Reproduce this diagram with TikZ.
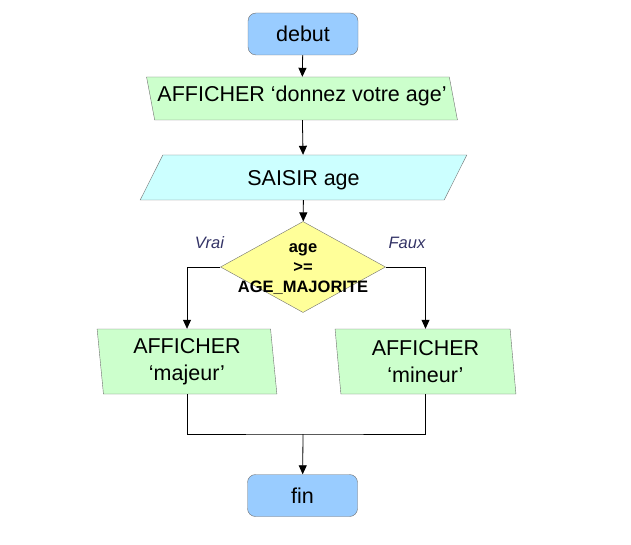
\documentclass[tikz,border=0pt]{standalone}
\usepackage{fontspec}
\setmainfont{Liberation Sans}
\usetikzlibrary{shapes.geometric, arrows.meta, positioning}

\definecolor{termblue}{HTML}{99CCFF}
\definecolor{outgreen}{HTML}{CCFFCC}
\definecolor{incyan}{HTML}{CCFFFF}
\definecolor{testyellow}{HTML}{FFFF99}
\definecolor{edgegray}{HTML}{707070}
\definecolor{labelnavy}{HTML}{333366}

\tikzset{
    terminal/.style={draw=edgegray, fill=termblue, rounded corners=8pt, minimum width=110pt, minimum height=42pt, font=\fontsize{21.5}{24}\selectfont},
    iobox/.style={draw=edgegray, trapezium, trapezium stretches=true, inner sep=0pt, font=\fontsize{21.5}{24}\selectfont},
    testbox/.style={draw=edgegray, fill=testyellow, diamond, aspect=1.8, inner sep=0pt, minimum width=165pt, minimum height=91pt},
    testtext/.style={align=center, inner sep=0pt, font=\fontsize{16.5}{20}\selectfont\bfseries},
    branch/.style={text=labelnavy, font=\fontsize{16.5}{18}\selectfont\itshape},
    flow/.style={-{Triangle[length=9pt, width=8pt]}, line width=0.8pt},
    mergeline/.style={line width=0.8pt}
}

\begin{document}
\begin{tikzpicture}[x=1pt, y=-1pt]
            \useasboundingbox (0, 0) rectangle (631, 545);
            \node[terminal] (debut) at (303, 34) {debut};
            \node[iobox, fill=outgreen, text depth=9pt, trapezium left angle=108, trapezium right angle=72, minimum width=312pt, minimum height=43pt] (ask) at (302, 98.5) {AFFICHER ‘donnez votre age’};
            \node[iobox, fill=incyan, text depth=0pt, trapezium left angle=59, trapezium right angle=121, minimum width=327pt, minimum height=45pt] (read) at (303.5, 177.5) {SAISIR age};
            \node[testbox] (test) at (303, 267) {};
            \node[testtext] (cond) at (303, 269) {age\\>=\\AGE\_MAJORITE};
            \node[iobox, fill=outgreen, align=center, font=\fontsize{21.5}{27}\selectfont, trapezium left angle=95, trapezium right angle=85, minimum width=180pt, minimum height=65pt] (major) at (187, 361.5) {AFFICHER\\‘majeur’};
            \node[iobox, fill=outgreen, align=center, font=\fontsize{21.5}{27}\selectfont, trapezium left angle=95, trapezium right angle=85, minimum width=181pt, minimum height=65pt] (minor) at (425.5, 361.5) {AFFICHER\\‘mineur’};
            \node[terminal] (fin) at (302.5, 495.5) {fin};
            \node[branch] (yes) at (209.5, 243) {Vrai};
            \node[branch] (no) at (407, 243) {Faux};
            \coordinate (merge) at (303, 434);
            \draw[flow] (debut) -- (ask);
            \draw[flow] (ask) -- (read);
            \draw[flow] (read) -- (test);
            \draw[flow] (test.west) -| (major.north);
            \draw[flow] (test.east) -| (minor.north);
            \draw[mergeline] (major.south) |- (merge) -| (minor.south);
            \draw[flow] (merge) -- (fin);
        \end{tikzpicture}
\end{document}
